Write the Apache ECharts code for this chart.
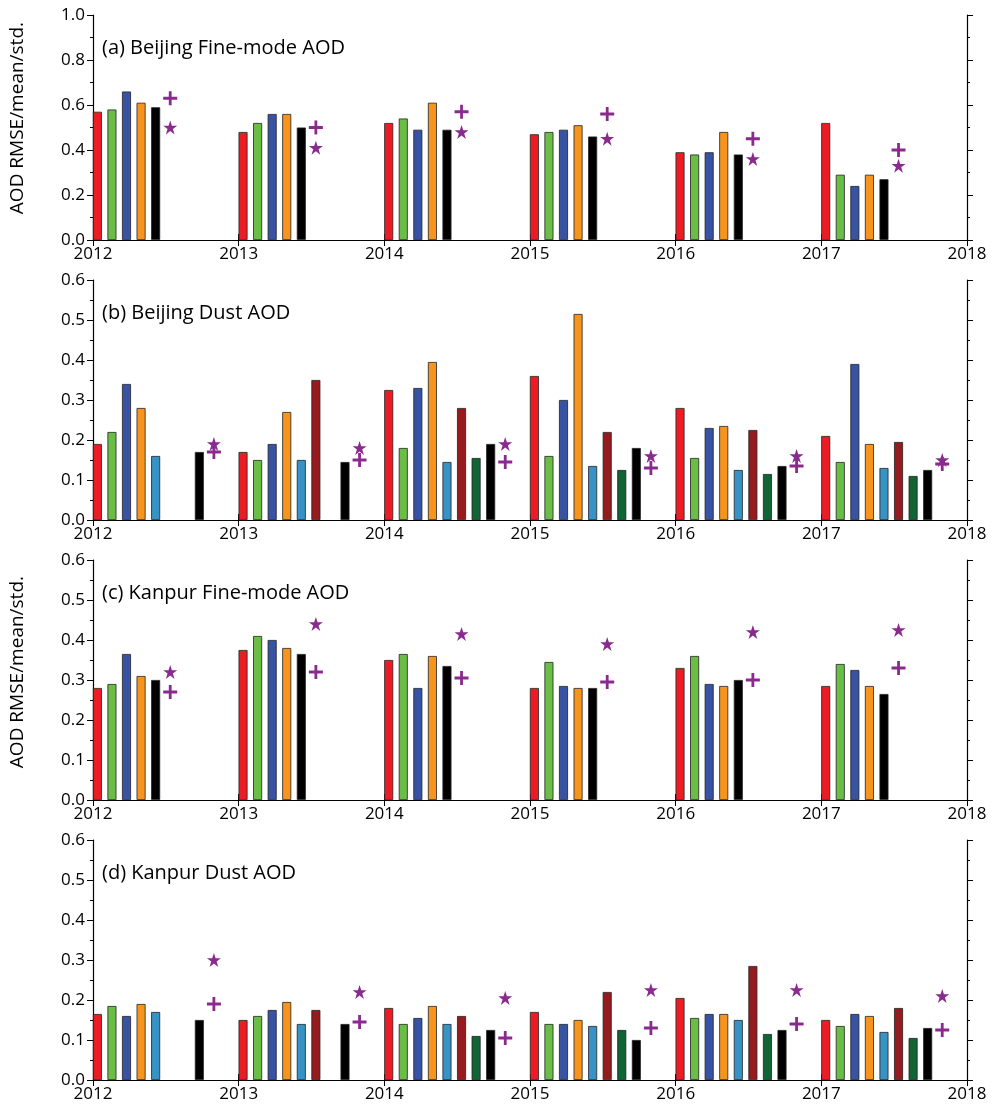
<!DOCTYPE html>
<html>
<head>
<meta charset="utf-8">
<script src="https://cdn.jsdelivr.net/npm/echarts@6/dist/echarts.min.js"></script>
<style>html,body{margin:0;padding:0;background:#fff}#chart{width:997px;height:1111px}</style>
</head>
<body>
<div id="chart"></div>
<script>
var years = [2012, 2013, 2014, 2015, 2016, 2017];
var colors5 = ['#ed1c24', '#6abd45', '#3953a4', '#f7941d', '#000000'];
var colors8 = ['#ed1c24', '#6abd45', '#3953a4', '#f7941d', '#3792c6', '#961b1e', '#116434', '#000000'];

// (a) Beijing fine-mode: rows per year, columns per colour
var beijingFine = [
    [0.57, 0.58, 0.66, 0.61, 0.59],
    [0.48, 0.52, 0.56, 0.56, 0.50],
    [0.52, 0.54, 0.49, 0.61, 0.49],
    [0.47, 0.48, 0.49, 0.51, 0.46],
    [0.39, 0.38, 0.39, 0.48, 0.38],
    [0.52, 0.29, 0.24, 0.29, 0.27]
];
var beijingFinePlus = [0.63, 0.50, 0.57, 0.56, 0.45, 0.40];
var beijingFineStar = [0.50, 0.41, 0.48, 0.45, 0.36, 0.33];

// (b) Beijing dust
var beijingDust = [
    [0.19, 0.22, 0.34, 0.28, 0.16, 0, 0, 0.17],
    [0.17, 0.15, 0.19, 0.27, 0.15, 0.35, 0, 0.145],
    [0.325, 0.18, 0.33, 0.395, 0.145, 0.28, 0.155, 0.19],
    [0.36, 0.16, 0.30, 0.515, 0.135, 0.22, 0.125, 0.18],
    [0.28, 0.155, 0.23, 0.235, 0.125, 0.225, 0.115, 0.135],
    [0.21, 0.145, 0.39, 0.19, 0.13, 0.195, 0.11, 0.125]
];
var beijingDustPlus = [0.17, 0.15, 0.145, 0.13, 0.135, 0.14];
var beijingDustStar = [0.19, 0.18, 0.19, 0.16, 0.16, 0.15];

// (c) Kanpur fine-mode
var kanpurFine = [
    [0.28, 0.29, 0.365, 0.31, 0.30],
    [0.375, 0.41, 0.40, 0.38, 0.365],
    [0.35, 0.365, 0.28, 0.36, 0.335],
    [0.28, 0.345, 0.285, 0.28, 0.28],
    [0.33, 0.36, 0.29, 0.285, 0.30],
    [0.285, 0.34, 0.325, 0.285, 0.265]
];
var kanpurFinePlus = [0.27, 0.32, 0.305, 0.295, 0.30, 0.33];
var kanpurFineStar = [0.32, 0.44, 0.415, 0.39, 0.42, 0.425];

// (d) Kanpur dust
var kanpurDust = [
    [0.165, 0.185, 0.16, 0.19, 0.17, 0, 0, 0.15],
    [0.15, 0.16, 0.175, 0.195, 0.14, 0.175, 0, 0.14],
    [0.18, 0.14, 0.155, 0.185, 0.14, 0.16, 0.11, 0.125],
    [0.17, 0.14, 0.14, 0.15, 0.135, 0.22, 0.125, 0.10],
    [0.205, 0.155, 0.165, 0.165, 0.15, 0.285, 0.115, 0.125],
    [0.15, 0.135, 0.165, 0.16, 0.12, 0.18, 0.105, 0.13]
];
var kanpurDustPlus = [0.19, 0.145, 0.105, 0.13, 0.14, 0.125];
var kanpurDustStar = [0.30, 0.22, 0.205, 0.225, 0.225, 0.21];

var panels = [
    {title: '(a) Beijing Fine-mode AOD', top: 15, height: 225, max: 1.0, interval: 0.2, data: beijingFine, colors: colors5, plus: beijingFinePlus, star: beijingFineStar},
    {title: '(b) Beijing Dust AOD', top: 280, height: 240, max: 0.6, interval: 0.1, data: beijingDust, colors: colors8, plus: beijingDustPlus, star: beijingDustStar},
    {title: '(c) Kanpur Fine-mode AOD', top: 560, height: 240, max: 0.6, interval: 0.1, data: kanpurFine, colors: colors5, plus: kanpurFinePlus, star: kanpurFineStar},
    {title: '(d) Kanpur Dust AOD', top: 840, height: 240, max: 0.6, interval: 0.1, data: kanpurDust, colors: colors8, plus: kanpurDustPlus, star: kanpurDustStar}
];

var plusPath = 'path://M4,0H6V4H10V6H6V10H4V6H0V4H4Z';
var starPath = 'path://M5,0L6.2,3.6L10,3.6L6.9,5.8L8.1,9.5L5,7.2L1.9,9.5L3.1,5.8L0,3.6L3.8,3.6Z';
var purple = '#8a2a8e';

var grid = [], xAxis = [], yAxis = [], series = [], titles = [];
var font = 'Open Sans';

panels.forEach(function(p, k) {
    grid.push({left: 93, right: 30, top: p.top, height: p.height});
    xAxis.push({
        type: 'value', gridIndex: k, min: 2012, max: 2018, interval: 1,
        axisLine: {lineStyle: {color: '#000', width: 1.2}},
        axisTick: {inside: true, length: 6, lineStyle: {color: '#000'}},
        axisLabel: {color: '#000', fontSize: 17, fontFamily: font, margin: 6, formatter: function(v) { return String(v); }},
        splitLine: {show: false}
    });
    xAxis.push({
        type: 'value', gridIndex: k, min: 2012, max: 2018, interval: 1, position: 'top',
        axisLine: {lineStyle: {color: '#000', width: 1.2}},
        axisTick: {inside: true, length: 6, lineStyle: {color: '#000'}},
        axisLabel: {show: false}, splitLine: {show: false}
    });
    var yBase = {
        type: 'value', gridIndex: k, min: 0, max: p.max, interval: p.interval,
        axisLine: {show: true, lineStyle: {color: '#000', width: 1.2}},
        axisTick: {show: true, length: 6, lineStyle: {color: '#000'}},
        minorTick: {show: true, splitNumber: 2, length: 3, lineStyle: {color: '#000'}},
        splitLine: {show: false}
    };
    yAxis.push(Object.assign({}, yBase, {
        axisLabel: {color: '#000', fontSize: 17, fontFamily: font, formatter: function(v) { return v.toFixed(1); }}
    }));
    yAxis.push(Object.assign({}, yBase, {position: 'right', axisLabel: {show: false}}));

    var n = p.colors.length;
    var bars = [];
    p.data.forEach(function(row, i) {
        row.forEach(function(v, j) {
            if (v > 0) {
                bars.push({value: [years[i] + 0.03 + 0.1 * j, v], itemStyle: {color: p.colors[j]}});
            }
        });
    });
    series.push({
        type: 'bar', xAxisIndex: 2 * k, yAxisIndex: 2 * k, barWidth: 9,
        itemStyle: {borderColor: '#222', borderWidth: 0.8},
        data: bars, silent: true
    });
    var mx = 0.03 + 0.1 * n;
    series.push({
        type: 'scatter', xAxisIndex: 2 * k, yAxisIndex: 2 * k, symbol: plusPath, symbolSize: 14,
        itemStyle: {color: purple, opacity: 1},
        data: years.map(function(y, i) { return [y + mx, p.plus[i]]; })
    });
    series.push({
        type: 'scatter', xAxisIndex: 2 * k, yAxisIndex: 2 * k, symbol: starPath, symbolSize: 14,
        itemStyle: {color: purple, opacity: 1},
        data: years.map(function(y, i) { return [y + mx, p.star[i]]; })
    });
    titles.push({
        text: p.title, left: 97, top: p.top + 18,
        textStyle: {fontSize: 20, fontWeight: 'normal', color: '#000', fontFamily: font}
    });
});

var chart = echarts.init(document.getElementById('chart'));
chart.setOption({
    animation: false,
    title: titles,
    grid: grid,
    xAxis: xAxis,
    yAxis: yAxis,
    series: series,
    graphic: [
        {type: 'text', left: 8, top: 22, rotation: Math.PI / 2,
         style: {text: 'AOD RMSE/mean/std.', font: '19px "Open Sans"', fill: '#000'}},
        {type: 'text', left: 8, top: 576, rotation: Math.PI / 2,
         style: {text: 'AOD RMSE/mean/std.', font: '19px "Open Sans"', fill: '#000'}}
    ]
});
</script>
</body>
</html>
